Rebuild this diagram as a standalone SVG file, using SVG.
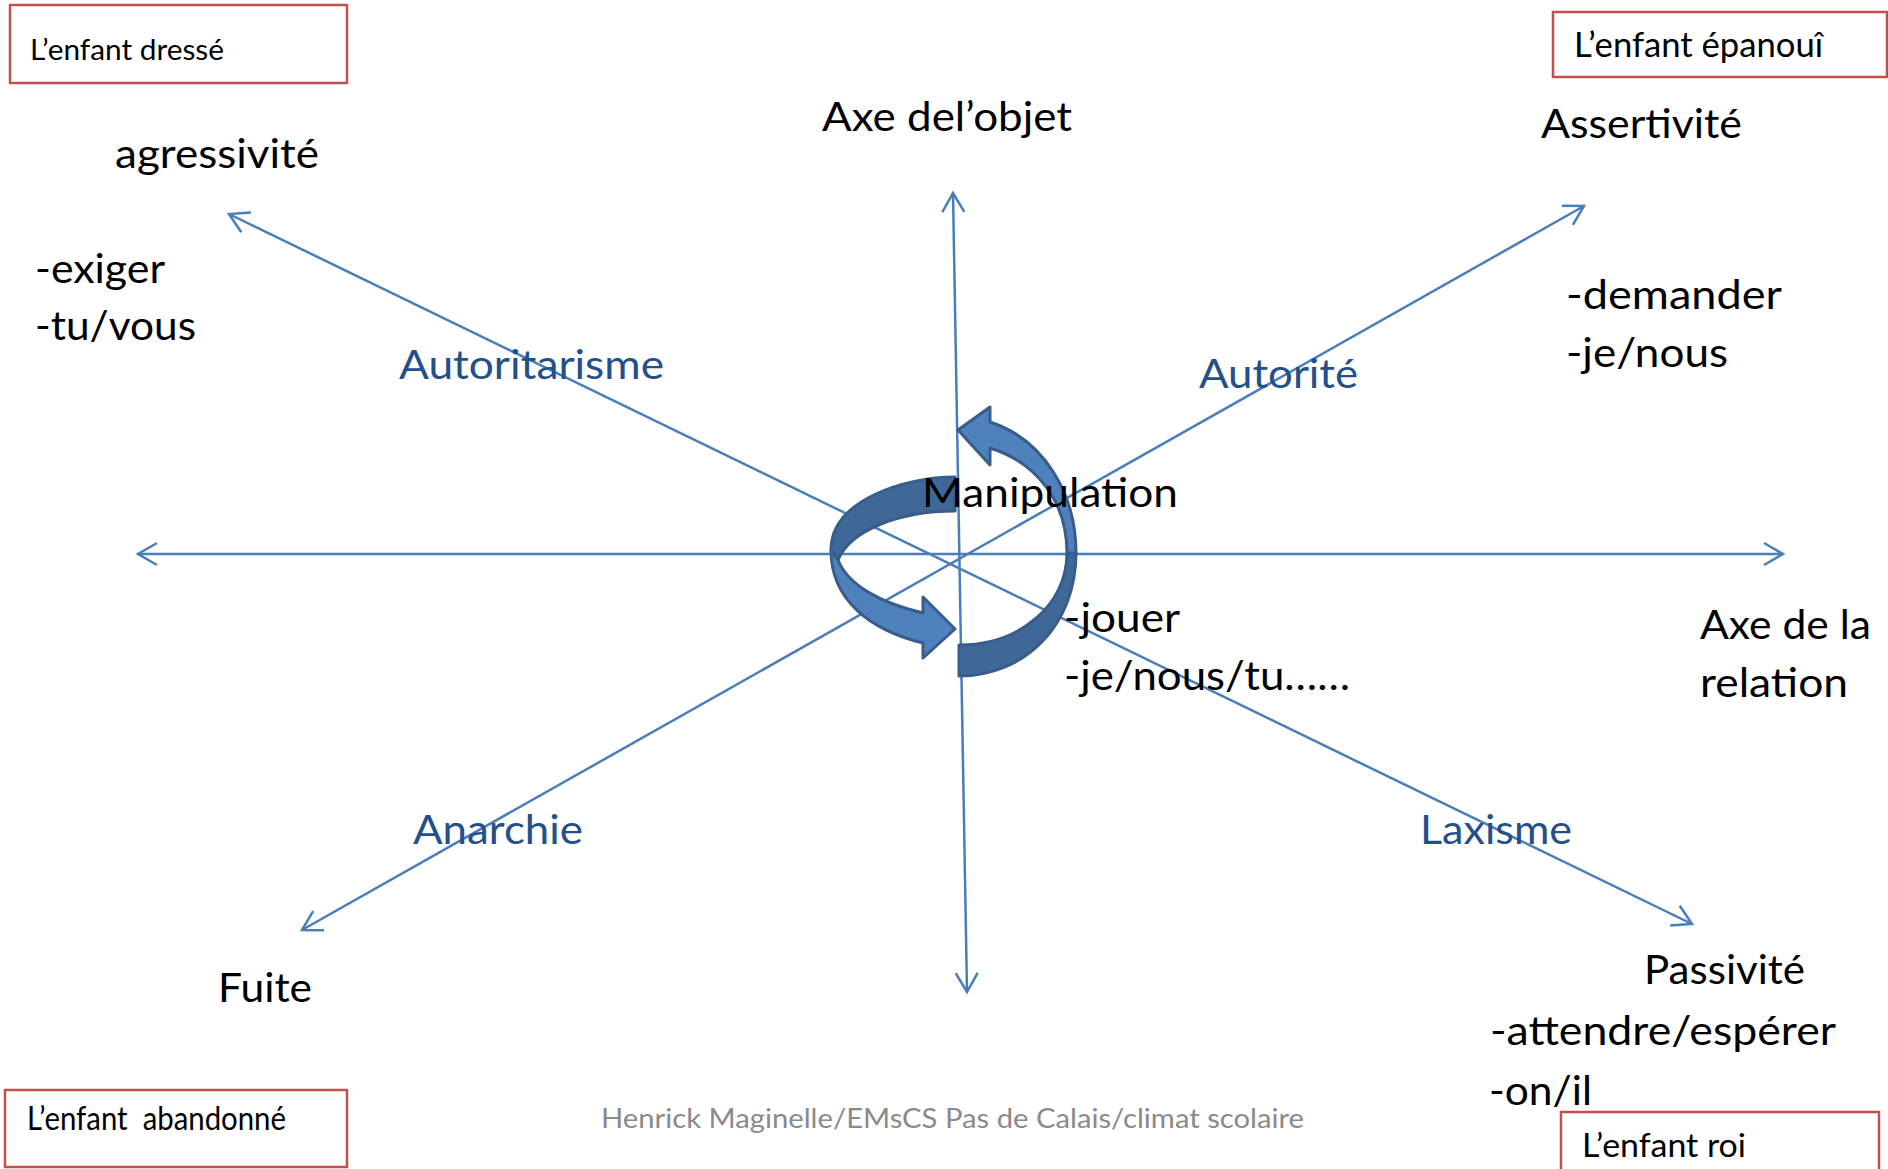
<svg xmlns="http://www.w3.org/2000/svg" width="1888" height="1169" viewBox="0 0 1888 1169">
<style>
.t{font-family:Lato,"Liberation Sans",sans-serif;font-size:41px;fill:#000}
.b{font-family:Lato,"Liberation Sans",sans-serif;font-size:41px;fill:#24508a}
.box{fill:none;stroke:#c0504d;stroke-width:2.5}
.bt{font-family:Lato,"Liberation Sans",sans-serif;fill:#000}
.ax{fill:none;stroke:#4a7ebb;stroke-width:2.5;marker-start:url(#ah);marker-end:url(#ah)}
.lt{fill:#4f81bd;stroke:#385d8a;stroke-width:3;stroke-linejoin:round}
.dk{fill:#3f6798;stroke:#385d8a;stroke-width:3;stroke-linejoin:round}
.ft{font-family:Lato,"Liberation Sans",sans-serif;font-size:27px;fill:#8a8a8a}
</style>
<defs>
<marker id="ah" viewBox="-22 -13 24 26" refX="0" refY="0" markerWidth="24" markerHeight="26" markerUnits="userSpaceOnUse" orient="auto-start-reverse" overflow="visible">
<path d="M-19,-11 L0,0 L-19,11" fill="none" stroke="#4a7ebb" stroke-width="2.5"/>
</marker>
</defs>
<rect width="1888" height="1169" fill="#fff"/>

<g id="connectors">
<line class="ax" x1="138" y1="554" x2="1783" y2="554"/>
<line class="ax" x1="953" y1="193" x2="967" y2="992"/>
<line class="ax" x1="229" y1="214" x2="1692" y2="924"/>
<line class="ax" x1="302" y1="930" x2="1584" y2="206"/>
</g>

<g id="circular-arrow">
<path class="dk" d="M955,477 C905,477 831,500 831,550 L838,560 C850,530 900,511 955,511 Z"/>
<path class="lt" d="M831,550 C831,600 870,630 923,643 L923,658 L955,629 L923,597 L923,613 C880,603 848,585 838,560 Z"/>
<path class="dk" d="M959,676 C1025,676 1076,625 1076,553 L1067,553 C1067,605 1020,645 959,645 Z"/>
<path class="lt" d="M1076,553 C1076,495 1045,440 990,422 L990,407 L958,430 L990,465 L990,448 C1035,462 1067,500 1067,553 Z"/>
</g>

<g id="box-dresse">
<rect class="box" x="10" y="5" width="337" height="78"/>
<text class="bt" x="30" y="60" font-size="29" textLength="194" lengthAdjust="spacingAndGlyphs">L’enfant dressé</text>
</g>
<g id="box-epanoui">
<rect class="box" x="1553" y="12" width="334" height="65"/>
<text class="bt" x="1574" y="57" font-size="34" textLength="249" lengthAdjust="spacingAndGlyphs">L’enfant épanouî</text>
</g>
<g id="box-abandonne">
<rect class="box" x="5" y="1090" width="342" height="77"/>
<text class="bt" x="27" y="1130" font-size="33" textLength="259" lengthAdjust="spacingAndGlyphs" xml:space="preserve">L’enfant  abandonné</text>
</g>
<g id="box-roi">
<rect class="box" x="1561" y="1112" width="318" height="70"/>
<text class="bt" x="1582" y="1157" font-size="33" textLength="164" lengthAdjust="spacingAndGlyphs">L’enfant roi</text>
</g>

<g id="node-agressivite">
<text class="t" x="115" y="168" textLength="204" lengthAdjust="spacingAndGlyphs">agressivité</text>
<text class="t" x="35" y="283" textLength="130" lengthAdjust="spacingAndGlyphs">-exiger</text>
<text class="t" x="35" y="340" textLength="161" lengthAdjust="spacingAndGlyphs">-tu/vous</text>
</g>
<g id="node-axe-objet">
<text class="t" x="822" y="131" textLength="250" lengthAdjust="spacingAndGlyphs">Axe del’objet</text>
</g>
<g id="node-assertivite">
<text class="t" x="1541" y="138" textLength="201" lengthAdjust="spacingAndGlyphs">Assertivité</text>
<text class="t" x="1566" y="309" textLength="216" lengthAdjust="spacingAndGlyphs">-demander</text>
<text class="t" x="1566" y="367" textLength="162" lengthAdjust="spacingAndGlyphs">-je/nous</text>
</g>
<g id="node-autoritarisme">
<text class="b" x="399" y="379" textLength="265" lengthAdjust="spacingAndGlyphs">Autoritarisme</text>
</g>
<g id="node-autorite">
<text class="b" x="1199" y="388" textLength="159" lengthAdjust="spacingAndGlyphs">Autorité</text>
</g>
<g id="node-manipulation">
<text class="t" x="922" y="507" textLength="256" lengthAdjust="spacingAndGlyphs">Manipulation</text>
<text class="t" x="1064" y="632" textLength="116" lengthAdjust="spacingAndGlyphs">-jouer</text>
<text class="t" x="1064" y="690" textLength="286" lengthAdjust="spacingAndGlyphs">-je/nous/tu……</text>
</g>
<g id="node-axe-relation">
<text class="t" x="1700" y="639" textLength="171" lengthAdjust="spacingAndGlyphs">Axe de la</text>
<text class="t" x="1700" y="697" textLength="148" lengthAdjust="spacingAndGlyphs">relation</text>
</g>
<g id="node-anarchie">
<text class="b" x="413" y="844" textLength="170" lengthAdjust="spacingAndGlyphs">Anarchie</text>
</g>
<g id="node-laxisme">
<text class="b" x="1420" y="844" textLength="152" lengthAdjust="spacingAndGlyphs">Laxisme</text>
</g>
<g id="node-fuite">
<text class="t" x="218" y="1002" textLength="94" lengthAdjust="spacingAndGlyphs">Fuite</text>
</g>
<g id="node-passivite">
<text class="t" x="1644" y="984" textLength="161" lengthAdjust="spacingAndGlyphs">Passivité</text>
<text class="t" x="1490" y="1045" textLength="346" lengthAdjust="spacingAndGlyphs">-attendre/espérer</text>
<text class="t" x="1489" y="1105" textLength="103" lengthAdjust="spacingAndGlyphs">-on/il</text>
</g>
<g id="footer">
<text class="ft" x="601" y="1128" textLength="703" lengthAdjust="spacingAndGlyphs">Henrick Maginelle/EMsCS Pas de Calais/climat scolaire</text>
</g>
</svg>
